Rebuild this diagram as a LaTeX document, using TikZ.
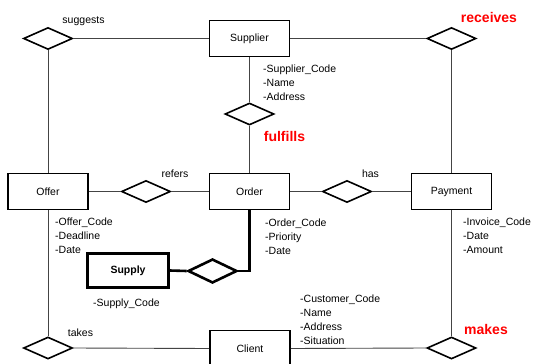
\documentclass[tikz,border=0pt]{standalone}
\usepackage{fontspec}
\setmainfont{Liberation Sans}
\usetikzlibrary{shapes.geometric}
\definecolor{linegray}{HTML}{444444}
\definecolor{relred}{HTML}{FF0000}
\newcommand{\erfont}{\fontsize{10.5}{14}\selectfont}
\newcommand{\redfont}{\fontsize{14}{16}\selectfont\bfseries}
\tikzset{
  entity/.style={draw=black, line width=1.6pt, minimum width=80pt, minimum height=36pt,
    inner sep=0pt, font=\erfont},
  weakentity/.style={entity, line width=2.6pt, font=\erfont\bfseries},
  relation/.style={diamond, draw=black, line width=1.6pt, minimum width=49pt,
    minimum height=22pt, inner sep=0pt, fill=white},
  weakrelation/.style={relation, line width=2.6pt, minimum height=24pt},
  link/.style={draw=linegray, line width=0.9pt},
  weaklink/.style={draw=black, line width=2.6pt},
  % base anchor of a multi-line block sits on its last line
  attrs/.style={anchor=base west, align=left, inner sep=0pt, font=\erfont},
  rlabel/.style={inner sep=0pt, font=\erfont},
  redlabel/.style={inner sep=0pt, font=\redfont, text=relred}
}
\begin{document}
\begin{tikzpicture}[x=1pt, y=-1pt]
  \useasboundingbox[fill=white] (0,0) rectangle (536,364);

  % entities
  \node[entity] (supplier) at (249.5,38.5) {Supplier};
  \node[entity] (offer)    at (48,191.5)   {Offer};
  \node[entity] (order)    at (249.5,191.5) {Order};
  \node[entity] (payment)  at (451.5,191.5) {Payment};
  \node[entity] (client)   at (250,348.5)  {Client};
  \node[weakentity, minimum width=81pt, minimum height=34pt] (supply) at (128,270.5) {Supply};

  % relationships
  \node[relation] (suggests) at (48,38.5)    {};
  \node[relation] (receives) at (451.5,38.5) {};
  \node[relation] (fulfills) at (249.5,114)  {};
  \node[relation] (refers)   at (146,191.5)  {};
  \node[relation] (has)      at (347,191.5)  {};
  \node[relation] (takes)    at (48,348)     {};
  \node[relation] (makes)    at (451.5,348)  {};
  \node[weakrelation] (supplies) at (212.5,271) {};

  % connectors
  \path[link] (suggests.east) -- (supplier.west);
  \path[link] (supplier.east) -- (receives.west);
  \path[link] (suggests.south) -- (offer.north);
  \path[link] (supplier.south) -- (fulfills.north);
  \path[link] (fulfills.south) -- (order.north);
  \path[link] (offer.east) -- (refers.west);
  \path[link] (refers.east) -- (order.west);
  \path[link] (order.east) -- (has.west);
  \path[link] (has.east) -- (payment.west);
  \path[link] (receives.south) -- (payment.north);
  \path[link] (offer.south) -- (takes.north);
  \path[link] (takes.east) -- (client.west);
  \path[link] (client.east) -- (makes.west);
  \path[link] (payment.south) -- (makes.north);
  \path[weaklink] (order.south) |- (supplies.east);
  \path[weaklink] (supply.east) -- (supplies.west);

  % relationship names
  \node[rlabel] (lsuggests) at (83.5,21)  {suggests};
  \node[rlabel] (lrefers)   at (175,174)  {refers};
  \node[rlabel] (lhas)      at (370.5,174) {has};
  \node[rlabel] (ltakes)    at (80.5,333) {takes};
  \node[redlabel] (lreceives) at (489,17)    {receives};
  \node[redlabel] (lfulfills) at (284.5,136) {fulfills};
  \node[redlabel] (lmakes)    at (486,329)   {makes};

  % attributes
  \node[attrs] (asupplier) at (263,100) {-Supplier\_Code\\-Name\\-Address};
  \node[attrs] (aoffer)    at (55,253)  {-Offer\_Code\\-Deadline\\-Date};
  \node[attrs] (aorder)    at (265,254) {-Order\_Code\\-Priority\\-Date};
  \node[attrs] (apayment)  at (463,253) {-Invoice\_Code\\-Date\\-Amount};
  \node[attrs] (asupply)   at (93,306)  {-Supply\_Code};
  \node[attrs] (aclient)   at (300,344) {-Customer\_Code\\-Name\\-Address\\-Situation};
\end{tikzpicture}
\end{document}
